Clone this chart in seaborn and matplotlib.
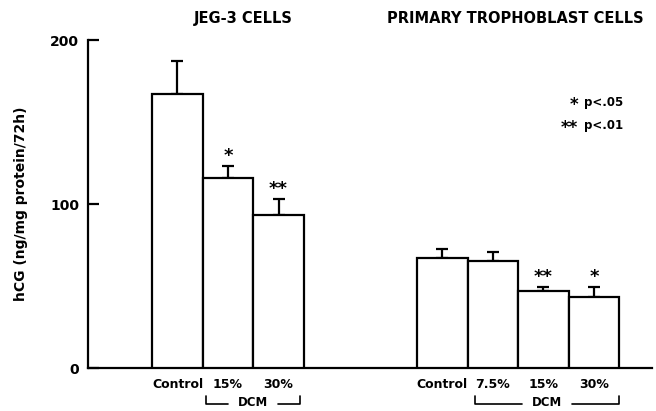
import numpy as np
import pandas as pd
import matplotlib
matplotlib.use("Agg")
import matplotlib.pyplot as plt
import matplotlib.transforms as mtransforms
import seaborn as sns

# ---- data ----
jeg_labels = ["Control", "15%", "30%"]
jeg_means = [167, 116, 93]
jeg_sem = [20, 7, 10]
jeg_sig = ["", "*", "**"]

tro_labels = ["Control", "7.5%", "15%", "30%"]
tro_means = [67, 65, 47, 43]
tro_sem = [5.5, 6, 2.5, 6.5]
tro_sig = ["", "", "**", "*"]

group_titles = ["JEG-3 CELLS", "PRIMARY TROPHOBLAST CELLS"]
ylabel = "hCG (ng/mg protein/72h)"
yticks = [0, 100, 200]
legend_rows = [("*", "p<.05"), ("**", "p<.01")]
bracket_text = "DCM"

# ---- layout ----
W, H = 656, 411
sns.set_style("white")
plt.rcParams["font.family"] = ["DejaVu Sans"]
plt.rcParams["font.weight"] = "bold"
plt.rcParams["text.color"] = "black"
plt.rcParams["axes.labelcolor"] = "black"
plt.rcParams["xtick.color"] = "black"
plt.rcParams["ytick.color"] = "black"

fig = plt.figure(figsize=(W / 100, H / 100), dpi=100)
ax = fig.add_axes([88 / W, 1 - 368 / H, (652 - 88) / W, (368 - 40) / H])

gap = 5.24
jeg_pos = np.arange(len(jeg_labels), dtype=float)
tro_pos = gap + np.arange(len(tro_labels), dtype=float)

df = pd.DataFrame({
    "pos": np.concatenate([jeg_pos, tro_pos]),
    "mean": jeg_means + tro_means,
    "sem": jeg_sem + tro_sem,
    "label": jeg_labels + tro_labels,
    "sig": jeg_sig + tro_sig,
})

lw = 1.6
sns.barplot(data=df, x="pos", y="mean", native_scale=True, width=1.0,
            color="white", saturation=1, edgecolor="black", linewidth=lw,
            errorbar=None, ax=ax, zorder=3)
ax.errorbar(df["pos"], df["mean"], yerr=[np.zeros(len(df)), df["sem"]],
            fmt="none", ecolor="black", elinewidth=lw, capsize=4.3,
            capthick=lw, zorder=2)

for x, m, s, sig in zip(df["pos"], df["mean"], df["sem"], df["sig"]):
    if sig:
        ax.annotate(sig, xy=(x, m + s), xytext=(0, 3.5), textcoords="offset points",
                    ha="center", va="baseline", fontsize=13, fontweight="bold")

ax.set_xlim(-1.77, 9.39)
ax.set_ylim(0, 200)
ax.set_xticks(df["pos"])
ax.set_xticklabels(df["label"], fontsize=9, fontweight="bold")
ax.set_yticks(yticks)
ax.set_yticklabels([str(t) for t in yticks], fontsize=10, fontweight="bold")
ax.tick_params(axis="x", bottom=True, length=0, pad=7)
ax.tick_params(axis="y", left=True, direction="in", length=8, width=lw, pad=6.5)
ax.set_xlabel("")
ax.set_ylabel(ylabel, fontsize=10, fontweight="bold")
ax.yaxis.set_label_coords(-60 / (652 - 88), 0.5)
for side in ["top", "right"]:
    ax.spines[side].set_visible(False)
for side in ["left", "bottom"]:
    ax.spines[side].set_linewidth(lw)
    ax.spines[side].set_color("black")

# group titles
fig.text(243 / W, 1 - 23 / H, group_titles[0], ha="center", va="baseline",
         fontsize=10.5, fontweight="bold")
fig.text(515 / W, 1 - 23 / H, group_titles[1], ha="center", va="baseline",
         fontsize=10.5, fontweight="bold")

# significance legend
for i, (st, txt) in enumerate(legend_rows):
    yb = 1 - (106 + 23 * i) / H
    fig.text(578 / W, yb - 4 / H, st, ha="right", va="baseline", fontsize=12,
             fontweight="bold")
    fig.text(584 / W, yb, txt, ha="left", va="baseline", fontsize=8.5,
             fontweight="bold")

# DCM brackets
tr = mtransforms.blended_transform_factory(ax.transData, fig.transFigure)
y_top = 1 - 396 / H
y_bot = 1 - 404 / H
for start, end in [(jeg_pos[1] - 0.44, jeg_pos[-1] + 0.43),
                   (tro_pos[1] - 0.35, tro_pos[-1] + 0.5)]:
    c = (start + end) / 2
    half = 0.5
    ax.plot([start, start, c - half], [y_top, y_bot, y_bot], color="black",
            lw=1.2, transform=tr, clip_on=False)
    ax.plot([c + half, end, end], [y_bot, y_bot, y_top], color="black",
            lw=1.2, transform=tr, clip_on=False)
    ax.text(c, 1 - 409 / H, bracket_text, transform=tr, ha="center", va="bottom",
            fontsize=8.5, fontweight="bold")

fig.savefig("out.png", dpi=100)
